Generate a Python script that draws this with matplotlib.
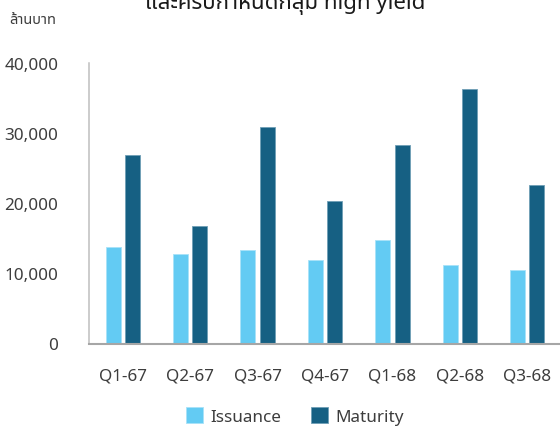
import matplotlib
matplotlib.use("Agg")
import matplotlib.pyplot as plt
import numpy as np

quarters = ["Q1-67", "Q2-67", "Q3-67", "Q4-67", "Q1-68", "Q2-68", "Q3-68"]
issuance = [13800, 12800, 13400, 11900, 14800, 11200, 10500]
maturity = [26900, 16700, 30900, 20300, 28300, 36300, 22600]

plt.rcParams['font.family'] = ['Noto Sans', 'Noto Sans Thai UI', 'DejaVu Sans']
txt_col = "#3d3d3d"

fig = plt.figure(figsize=(5.6, 4.27), dpi=100)
ax = fig.add_axes([89 / 560, 82.5 / 427, 472 / 560, 280.5 / 427])

x = np.arange(len(quarters))
w = 0.223
ax.bar(x - 0.143, issuance, w, color="#63CBF3", edgecolor="#a8e2f8", linewidth=0.6, label="Issuance")
ax.bar(x + 0.143, maturity, w, color="#166083", edgecolor="#6f9fb6", linewidth=0.6, label="Maturity")

ax.set_xlim(-0.5, len(quarters) - 0.5)
ax.set_ylim(0, 40000)
ax.set_yticks([0, 10000, 20000, 30000, 40000])
ax.set_yticklabels(["{:,}".format(v) for v in [0, 10000, 20000, 30000, 40000]])
ax.set_xticks(x)
ax.set_xticklabels(quarters)
ax.tick_params(axis="y", length=0, pad=22, labelsize=12.3, labelcolor=txt_col)
ax.tick_params(axis="x", length=0, pad=17, labelsize=12.3, labelcolor=txt_col)

for s in ["top", "right"]:
    ax.spines[s].set_visible(False)
ax.spines["left"].set_color("#BFBFBF")
ax.spines["left"].set_linewidth(1.1)
ax.spines["bottom"].set_color("#A6A6A6")
ax.spines["bottom"].set_linewidth(1.5)

fig.text(285 / 560, 1 - 9 / 427, "และครบกำหนดกลุ่ม high yield", ha="center", va="baseline",
         fontsize=16, fontweight="bold", color="#1a1a1a",
         family=['Noto Sans Thai UI', 'Noto Sans'])
fig.text(9 / 560, 1 - 21 / 427, "ล้านบาท", ha="left", va="center", fontsize=10.5,
         color=txt_col, family=['Noto Sans Thai UI', 'Noto Sans'])

fig.legend(loc="center", bbox_to_anchor=(295 / 560, 1 - 417 / 427), ncol=2, frameon=False,
           fontsize=12.3, handlelength=1.0, handleheight=1.0, handletextpad=0.45,
           columnspacing=1.7, labelcolor=txt_col)

fig.savefig("out.png")
